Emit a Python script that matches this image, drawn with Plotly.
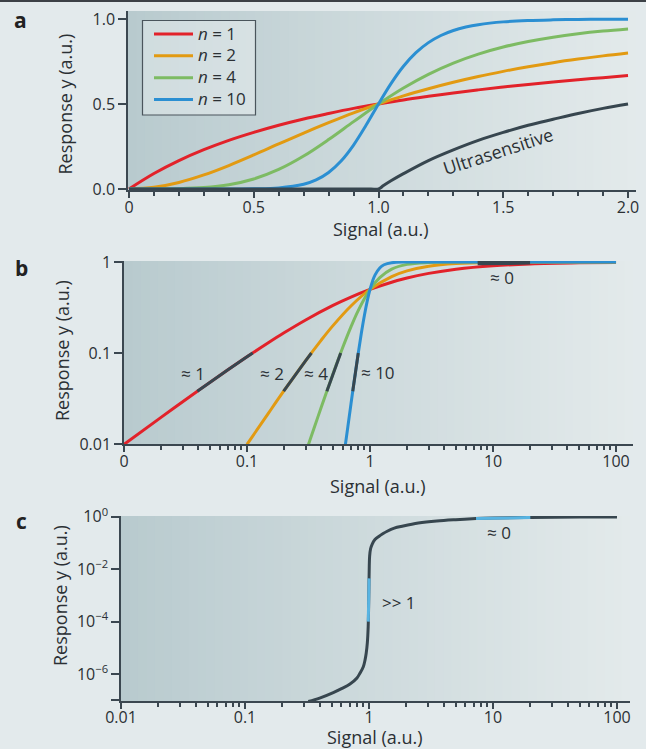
import numpy as np
import plotly.graph_objects as go

# ---------------- data ----------------
# Panel a (linear axes)
a_signal = [0, 0.1, 0.2, 0.3, 0.4, 0.5, 0.6, 0.7, 0.8, 0.9, 1.0,
            1.1, 1.2, 1.3, 1.4, 1.5, 1.6, 1.7, 1.8, 1.9, 2.0]
a_n1 = [0, .091, .167, .231, .286, .333, .375, .412, .444, .474, .5,
        .524, .545, .565, .583, .6, .615, .630, .643, .655, .667]
a_n2 = [0, .0099, .0385, .0826, .138, .2, .265, .329, .390, .448, .5,
        .548, .590, .628, .662, .692, .719, .743, .764, .783, .8]
a_n4 = [0, .0001, .0016, .008, .025, .0588, .1147, .1936, .2906, .3962, .5,
        .5942, .6746, .7407, .7935, .8351, .8676, .8931, .913, .9287, .9412]
a_n10_signal = [0, 0.3, 0.5, 0.6, 0.7, 0.75, 0.8, 0.85, 0.9, 0.95, 1.0, 1.05,
                1.1, 1.15, 1.2, 1.25, 1.3, 1.35, 1.4, 1.5, 1.6, 1.7, 1.8, 1.9, 2.0]
a_n10 = [0, 0, .001, .006, .0275, .0533, .097, .1645, .2585, .3745, .5, .6196,
         .7217, .8018, .861, .903, .9324, .9526, .9666, .983, .991, .995, .9972, .9984, .999]
a_ultra_signal = [0, 0.5, 0.9, 0.97, 1.0, 1.02, 1.05, 1.1, 1.2, 1.3, 1.4,
                  1.5, 1.6, 1.7, 1.8, 1.9, 2.0]
a_ultra = [0, 0, 0, 0, 0, .02, .048, .09, .167, .23, .286,
           .333, .375, .41, .444, .474, .5]
a_labels = ["<i>n</i> = 1", "<i>n</i> = 2", "<i>n</i> = 4", "<i>n</i> = 10"]

# Panel b (log-log axes)
b_n1_signal = [0.01, 0.02, 0.04, 0.07, 0.1, 0.15, 0.2, 0.3, 0.5, 0.7, 1,
               1.5, 2, 3, 5, 10, 20, 50, 100]
b_n1 = [.0099, .0196, .0385, .0654, .0909, .1304, .1667, .2308, .3333, .4118, .5,
        .6, .6667, .75, .8333, .9091, .9524, .9804, .9901]
b_n2_signal = [0.1, 0.15, 0.2, 0.3, 0.4, 0.5, 0.7, 1, 1.5, 2, 3, 5, 10, 20, 50, 100]
b_n2 = [.0099, .022, .0385, .0826, .1379, .2, .3289, .5, .6923, .8, .9, .9615,
        .9901, .9975, .9996, .9999]
b_n4_signal = [0.316, 0.35, 0.4, 0.45, 0.5, 0.6, 0.7, 0.8, 1, 1.2, 1.5, 2, 3, 5, 10, 100]
b_n4 = [.0099, .0148, .025, .0394, .0588, .1147, .1936, .2906, .5, .6746, .8351,
        .9412, .9878, .9984, .9999, 1.0]
b_n10_signal = [0.631, 0.66, 0.7, 0.75, 0.8, 0.85, 0.9, 0.95, 1, 1.05, 1.1, 1.2,
                1.3, 1.5, 2, 3, 10, 100]
b_n10 = [.0099, .0154, .0275, .0533, .097, .1645, .2585, .3745, .5, .6196, .7217,
         .861, .9324, .983, .999, .99998, 1.0, 1.0]
b_slope_range = [0.038, 0.1]        # response range marked in dark
b_flat_range = [7.5, 20]            # signal range marked "≈ 0"
b_slope_labels = ["≈ 1", "≈ 2", "≈ 4", "≈ 10"]
b_label_x = [0.0364, 0.1596, 0.3606, 1.168]
b_label_y = [0.060, 0.060, 0.060, 0.0618]

# Panel c (log-log axes, ultrasensitive)
c_signal = [0.324, 0.4, 0.515, 0.6, 0.703, 0.8, 0.845, 0.9, 0.929, 0.95, 0.97,
            0.985, 0.995, 1.0, 1.005, 1.012, 1.03, 1.06, 1.117, 1.2, 1.3, 1.39, 1.6,
            1.89, 2.5, 3.52, 5, 7.3, 10, 20, 50, 100]
c_log_response = [-7.05, -6.92, -6.71, -6.56, -6.38, -6.15, -5.97, -5.72, -5.47,
                  -5.2, -4.8, -4.2, -3.2, -2.5, -1.9, -1.5, -1.22, -1.05, -0.87,
                  -0.75, -0.64, -0.56, -0.43, -0.35, -0.24, -0.16, -0.11, -0.07, -0.05,
                  -0.025, -0.01, -0.005]
c_steep_range = [1e-4, 10 ** -2.35]
c_flat_range = [7.3, 20]

# ---------------- styling ----------------
FONT = "Open Sans"
AX = "#3b4750"
TXT = "#2b3034"
COLORS = ["#e2222a", "#e29a12", "#7dbb63", "#2b8fd2"]
DARK = "#37464f"
LIGHTBLUE = "#58b4e2"
PAGE = "#e3eaec"
W, H = 646, 749


def seg_by_y(xs, ys, lo, hi):
    lx, ly = np.log10(xs), np.log10(ys)
    x0 = np.interp(np.log10(lo), ly, lx)
    x1 = np.interp(np.log10(hi), ly, lx)
    mx = [a for a, b in zip(lx, ly) if np.log10(lo) < b < np.log10(hi)]
    my = [b for a, b in zip(lx, ly) if np.log10(lo) < b < np.log10(hi)]
    X = [x0] + mx + [x1]
    Y = [np.log10(lo)] + my + [np.log10(hi)]
    return 10 ** np.array(X), 10 ** np.array(Y)


def seg_by_x(xs, ys, lo, hi):
    lx, ly = np.log10(xs), np.log10(ys)
    y0 = np.interp(np.log10(lo), lx, ly)
    y1 = np.interp(np.log10(hi), lx, ly)
    mx = [a for a in lx if np.log10(lo) < a < np.log10(hi)]
    my = [b for a, b in zip(lx, ly) if np.log10(lo) < a < np.log10(hi)]
    X = [np.log10(lo)] + mx + [np.log10(hi)]
    Y = [y0] + my + [y1]
    return 10 ** np.array(X), 10 ** np.array(Y)


fig = go.Figure()

# Panel a
for xs, ys, c, name in [(a_signal, a_n1, COLORS[0], a_labels[0]),
                        (a_signal, a_n2, COLORS[1], a_labels[1]),
                        (a_signal, a_n4, COLORS[2], a_labels[2]),
                        (a_n10_signal, a_n10, COLORS[3], a_labels[3])]:
    fig.add_trace(go.Scatter(x=xs, y=ys, mode="lines",
                             name="<span style='font-size:17px'>%s</span>" % name,
                             line=dict(color=c, width=3, shape="spline"),
                             xaxis="x", yaxis="y", showlegend=True))
fig.add_trace(go.Scatter(x=a_ultra_signal, y=a_ultra, mode="lines",
                         line=dict(color=DARK, width=3, shape="spline"),
                         xaxis="x", yaxis="y", showlegend=False))

# Panel b
b_curves = [(b_n1_signal, b_n1), (b_n2_signal, b_n2), (b_n4_signal, b_n4), (b_n10_signal, b_n10)]
for (xs, ys), c in zip(b_curves, COLORS):
    fig.add_trace(go.Scatter(x=xs, y=ys, mode="lines",
                             line=dict(color=c, width=3, shape="spline"),
                             xaxis="x2", yaxis="y2", showlegend=False))
for xs, ys in b_curves:
    sx, sy = seg_by_y(xs, ys, *b_slope_range)
    fig.add_trace(go.Scatter(x=sx, y=sy, mode="lines",
                             line=dict(color=DARK, width=3),
                             xaxis="x2", yaxis="y2", showlegend=False))
fx, fy = seg_by_x(b_n2_signal, b_n2, *b_flat_range)
fig.add_trace(go.Scatter(x=fx, y=fy, mode="lines", line=dict(color=DARK, width=5),
                         xaxis="x2", yaxis="y2", showlegend=False))

# Panel c
c_resp = 10 ** np.array(c_log_response)
fig.add_trace(go.Scatter(x=c_signal, y=c_resp, mode="lines",
                         line=dict(color=DARK, width=3, shape="spline", smoothing=1),
                         xaxis="x3", yaxis="y3", showlegend=False))
sx, sy = seg_by_y(c_signal, c_resp, *c_steep_range)
fig.add_trace(go.Scatter(x=sx, y=sy, mode="lines", line=dict(color=LIGHTBLUE, width=3),
                         xaxis="x3", yaxis="y3", showlegend=False))
sx, sy = seg_by_x(c_signal, c_resp, *c_flat_range)
fig.add_trace(go.Scatter(x=sx, y=sy, mode="lines", line=dict(color=LIGHTBLUE, width=3),
                         xaxis="x3", yaxis="y3", showlegend=False))

# ---------------- axes ----------------
def dom_x(l, r):
    return [l / W, r / W]


def dom_y(b, t):
    return [1 - b / H, 1 - t / H]


tick_font = dict(family=FONT, size=16, color=TXT)
common = dict(showline=True, linecolor=AX, linewidth=1.5, ticks="outside",
              tickcolor=AX, tickwidth=1.5, showgrid=False, zeroline=False,
              tickfont=tick_font, automargin=False)
xminor = dict(ticks="outside", ticklen=4, tickcolor=AX, tickwidth=1.5, showgrid=False)

fig.update_layout(
    xaxis=dict(domain=dom_x(128, 636), range=[-0.004, 2.032], anchor="y",
               tickvals=[0, 0.5, 1, 1.5, 2], ticktext=["0", "0.5", "1.0", "1.5", "2.0"],
               ticklen=6, ticklabelstandoff=-4, minor=dict(dtick=0.1, **xminor),
               **common),
    yaxis=dict(domain=dom_y(190, 11), range=[-0.006, 1.047], anchor="x",
               tickvals=[0, 0.5, 1.0], ticktext=["0.0", "0.5", "1.0"], ticklen=8, **common),
    xaxis2=dict(domain=dom_x(124, 633), type="log", range=[-2, 2.138], anchor="y2",
                tickvals=[0.01, 0.1, 1, 10, 100], ticktext=["0", "0.1", "1", "10", "100"],
                ticklen=6, ticklabelstandoff=-4, minor=dict(dtick="D1", **xminor),
                **common),
    yaxis2=dict(domain=dom_y(444, 261), type="log", range=[-2, 0.011], anchor="x2",
                tickvals=[0.01, 0.1, 1], ticktext=["0.01", "0.1", "1"], ticklen=8, **common),
    xaxis3=dict(domain=dom_x(121, 630), type="log", range=[-2, 2.105], anchor="y3",
                tickvals=[0.01, 0.1, 1, 10, 100], ticktext=["0.01", "0.1", "1", "10", "100"],
                ticklen=6, ticklabelstandoff=-5, minor=dict(dtick="D1", **xminor),
                **common),
    yaxis3=dict(domain=dom_y(701, 516), type="log", range=[-7.03, 0.03], anchor="x3",
                tickvals=[1, 1e-2, 1e-4, 1e-6, 1e-7],
                ticktext=["10<sup>0</sup>", "10<sup>−2</sup>", "10<sup>−4</sup>",
                          "10<sup>−6</sup>", ""], ticklen=8, **common),
)

# ---------------- background gradients ----------------
def lerp(c0, c1, t):
    return "rgb(%d,%d,%d)" % tuple(round(a + (b - a) * t) for a, b in zip(c0, c1))


LEFT = (184, 202, 206)
RIGHT = (227, 234, 235)
shapes = []
N = 60
for ax_x, ax_y in [("x", "y"), ("x2", "y2"), ("x3", "y3")]:
    for i in range(N):
        t = (i + 0.5) / N
        shapes.append(dict(type="rect", xref=ax_x + " domain", yref=ax_y + " domain",
                           x0=i / N, x1=min(1, (i + 1.6) / N), y0=0, y1=1,
                           fillcolor=lerp(LEFT, RIGHT, t ** 0.95), line=dict(width=0),
                           layer="below"))
# thin rule at the very top of the page
shapes.append(dict(type="line", xref="paper", yref="paper", x0=0, x1=1,
                   y0=1 - 1 / H, y1=1 - 1 / H, line=dict(color="#3c4146", width=2)))
# legend frame (lighter panel behind the legend entries)
shapes.append(dict(type="rect", xref="paper", yref="paper",
                   x0=142.5 / W, x1=255.5 / W, y0=1 - 115 / H, y1=1 - 20.5 / H,
                   fillcolor="rgba(255,255,255,0.33)", line=dict(color="#4a555c", width=1.2),
                   layer="above"))

# ---------------- annotations ----------------
ann = []
for txt, x, y in [("a", 20, 20), ("b", 21, 268), ("c", 21, 521)]:
    ann.append(dict(text="<b>%s</b>" % txt, x=x / W, y=1 - y / H, xref="paper", yref="paper",
                    showarrow=False, font=dict(family=FONT, size=21, color="#222"),
                    xanchor="center", yanchor="middle"))
for x, y in [(64.5, 104), (62, 351), (60, 596)]:
    ann.append(dict(text="Response y (a.u.)", x=x / W, y=1 - y / H, xref="paper", yref="paper",
                    showarrow=False, textangle=-90, font=dict(family=FONT, size=18, color=TXT),
                    xanchor="center", yanchor="middle"))
for x, y in [(381, 229), (378, 486), (375, 737)]:
    ann.append(dict(text="Signal (a.u.)", x=x / W, y=1 - y / H, xref="paper", yref="paper",
                    showarrow=False, font=dict(family=FONT, size=18, color=TXT),
                    xanchor="center", yanchor="middle"))
ann.append(dict(text="Ultrasensitive", x=1.48, y=0.221, xref="x", yref="y", showarrow=False,
                textangle=-18, font=dict(family=FONT, size=18, color=TXT)))
for txt, x, y in zip(b_slope_labels, b_label_x, b_label_y):
    ann.append(dict(text=txt, x=np.log10(x), y=np.log10(y), xref="x2", yref="y2",
                    showarrow=False, font=dict(family=FONT, size=17, color=TXT)))
ann.append(dict(text="≈ 0", x=1.077, y=-0.170, xref="x2", yref="y2", showarrow=False,
                font=dict(family=FONT, size=17, color=TXT)))
ann.append(dict(text="≈ 0", x=1.048, y=-0.584, xref="x3", yref="y3", showarrow=False,
                font=dict(family=FONT, size=17, color=TXT)))
ann.append(dict(text=">> 1", x=0.242, y=-3.256, xref="x3", yref="y3", showarrow=False,
                font=dict(family=FONT, size=17, color=TXT)))

fig.update_layout(
    width=W, height=H, margin=dict(l=0, r=0, t=0, b=0, pad=0, autoexpand=False),
    paper_bgcolor=PAGE, plot_bgcolor=PAGE,
    shapes=shapes, annotations=ann,
    font=dict(family=FONT, color=TXT),
    legend=dict(x=149 / W, y=1 - 18 / H, xanchor="left", yanchor="top",
                borderwidth=0, bgcolor="rgba(0,0,0,0)", itemwidth=39,
                font=dict(family=FONT, size=14.5, color=TXT), tracegroupgap=0),
)

fig.write_html("out.html", config={"responsive": False, "displayModeBar": False},
               post_script="document.body.style.margin='0';document.body.style.overflow='hidden';")
